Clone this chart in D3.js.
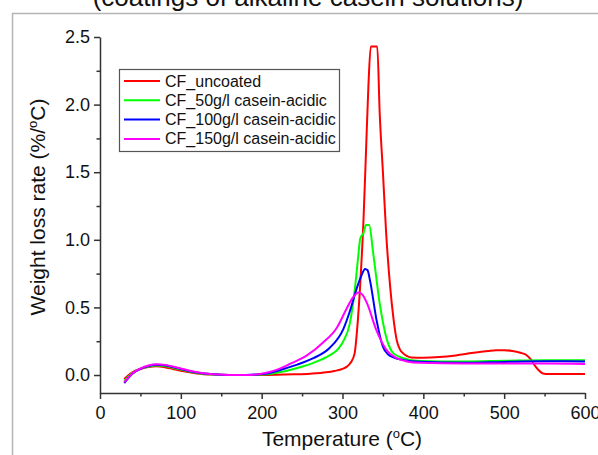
<!DOCTYPE html>
<html><head><meta charset="utf-8">
<script src="https://cdn.jsdelivr.net/npm/d3@7"></script>
<style>html,body{margin:0;padding:0;background:#fff;}svg{display:block;font-family:"Liberation Sans",Arial,sans-serif;}</style>
</head><body>
<svg id="c" width="598" height="455"></svg>
<script>
const titleText = "(coatings of alkaline casein solutions)";
const seriesNames = ["CF_uncoated","CF_50g/l casein-acidic","CF_100g/l casein-acidic","CF_150g/l casein-acidic"];
const seriesColors = ["#ff0000","#00ff00","#0000ff","#ff00ff"];
const xTicks = [0,100,200,300,400,500,600];
const yTicks = [0.0,0.5,1.0,1.5,2.0,2.5];

const uncoatedT = [30,40,50,60,70,80,90,100,120,140,160,200,240,260,280,290,300,305,310,315,318,322,326,329,332,335,343,346,350,354,359,363,367,371,375,380,385,400,420,440,460,480,490,500,510,520,527,533,538,542,548,555,570,600];
const uncoatedV = [-0.03,0.02,0.045,0.06,0.065,0.058,0.045,0.032,0.012,0.003,0.0,0.0,0.005,0.01,0.02,0.03,0.045,0.06,0.09,0.16,0.33,0.68,1.15,1.64,2.13,2.43,2.43,1.94,1.5,1.05,0.65,0.42,0.26,0.19,0.16,0.14,0.13,0.128,0.133,0.145,0.162,0.178,0.184,0.184,0.178,0.165,0.15,0.115,0.07,0.04,0.012,0.008,0.008,0.008];

const c50T = [30,40,50,60,70,80,90,100,120,140,160,180,200,210,220,230,243,264,284,295,301,309,315,319,322,326,329,333,338,346,355,363,375,396,420,450,500,550,600];
const c50V = [-0.045,0.015,0.045,0.062,0.07,0.066,0.054,0.04,0.015,0.004,0.0,0.0,0.004,0.008,0.018,0.03,0.05,0.09,0.145,0.195,0.25,0.38,0.62,0.85,1.01,1.05,1.11,1.11,0.9,0.53,0.26,0.16,0.125,0.103,0.1,0.1,0.105,0.11,0.11];

const c100T = [30,40,50,60,70,80,90,100,120,140,160,180,200,210,220,230,243,264,284,301,309,317,323,328,331,334,342,350,356,363,375,396,450,500,550,600];
const c100V = [-0.06,0.01,0.045,0.066,0.076,0.072,0.06,0.045,0.018,0.005,0.0,0.0,0.007,0.015,0.032,0.05,0.075,0.125,0.2,0.34,0.47,0.63,0.73,0.785,0.775,0.7,0.41,0.21,0.155,0.13,0.112,0.098,0.09,0.097,0.102,0.1];

const c150T = [30,40,50,60,70,80,90,100,120,140,160,180,200,210,220,235,256,276,293,305,313,320,325,330,342,355,367,380,396,450,500,550,600];
const c150V = [-0.055,0.012,0.048,0.07,0.079,0.075,0.063,0.048,0.02,0.006,0.0,0.0,0.01,0.022,0.042,0.082,0.145,0.24,0.35,0.49,0.575,0.61,0.59,0.535,0.33,0.18,0.125,0.1,0.09,0.085,0.085,0.085,0.082];

const seriesT = [uncoatedT,c50T,c100T,c150T];
const seriesV = [uncoatedV,c50V,c100V,c150V];

const svg = d3.select("#c");
const x = d3.scaleLinear().domain([0,600]).range([100,585]);
const y = d3.scaleLinear().domain([-0.133,2.5]).range([393,37]);

// outer frame
svg.append("rect").attr("x",12.5).attr("y",13.5).attr("width",620).attr("height",500)
  .attr("fill","none").attr("stroke","#b4b4b4").attr("stroke-width",1.5);

// title (cut at top)
svg.append("text").attr("x",308).attr("y",6).attr("text-anchor","middle")
  .attr("font-size",26).attr("fill","#111").text(titleText);

const axCol = "#333";
// minor ticks
const minorX = d3.range(50,600,100);
const minorY = [0.25,0.75,1.25,1.75,2.25];
const gx = svg.append("g").attr("transform","translate(0,393)")
  .call(d3.axisBottom(x).tickValues(xTicks).tickFormat(d3.format("d")).tickSize(6).tickSizeOuter(0).tickPadding(4));
const gxm = svg.append("g").attr("transform","translate(0,393)")
  .call(d3.axisBottom(x).tickValues(minorX).tickFormat("").tickSize(3.5).tickSizeOuter(0));
gxm.select(".domain").remove();
const gy = svg.append("g").attr("transform","translate(100,0)")
  .call(d3.axisLeft(y).tickValues(yTicks).tickFormat(d3.format(".1f")).tickSize(6).tickSizeOuter(0).tickPadding(4));
const gym = svg.append("g").attr("transform","translate(100,0)")
  .call(d3.axisLeft(y).tickValues(minorY).tickFormat("").tickSize(3.5).tickSizeOuter(0));
gym.select(".domain").remove();
[gx,gxm,gy,gym].forEach(g=>{
  g.selectAll("path,line").attr("stroke",axCol).attr("stroke-width",1.5);
  g.selectAll("text").attr("font-size",18).attr("fill","#111").attr("font-family",'"Liberation Sans",Arial,sans-serif');
});
gx.selectAll("text").attr("dy","0.9em");

// axis titles
const xt = svg.append("text").attr("x",342).attr("y",446).attr("text-anchor","middle").attr("font-size",21).attr("fill","#111");
xt.append("tspan").text("Temperature (");
xt.append("tspan").attr("font-size",13).attr("dy",-8).text("o");
xt.append("tspan").attr("dy",8).text("C)");
const yt = svg.append("text").attr("transform","translate(45,207) rotate(-90)").attr("text-anchor","middle").attr("font-size",21).attr("fill","#111");
yt.append("tspan").text("Weight loss rate (%/");
yt.append("tspan").attr("font-size",13).attr("dy",-8).text("o");
yt.append("tspan").attr("dy",8).text("C)");

// lines
const line = d3.line().x(d=>x(d[0])).y(d=>y(d[1])).curve(d3.curveMonotoneX);
seriesT.forEach((ts,i)=>{
  const pts = ts.map((t,j)=>[t,seriesV[i][j]]);
  svg.append("path").datum(pts).attr("d",line).attr("fill","none")
    .attr("stroke",seriesColors[i]).attr("stroke-width",2).attr("stroke-linejoin","round");
});

// legend
const lg = svg.append("g");
lg.append("rect").attr("x",119.5).attr("y",69.5).attr("width",220).attr("height",82)
  .attr("fill","#fff").attr("stroke","#555").attr("stroke-width",1.2);
seriesNames.forEach((n,i)=>{
  const yy = 81 + i*19.3;
  lg.append("line").attr("x1",124).attr("x2",160).attr("y1",yy).attr("y2",yy)
    .attr("stroke",seriesColors[i]).attr("stroke-width",2);
  lg.append("text").attr("x",165).attr("y",yy+5.5).attr("font-size",16).attr("fill","#111").text(n);
});
</script>
</body></html>
